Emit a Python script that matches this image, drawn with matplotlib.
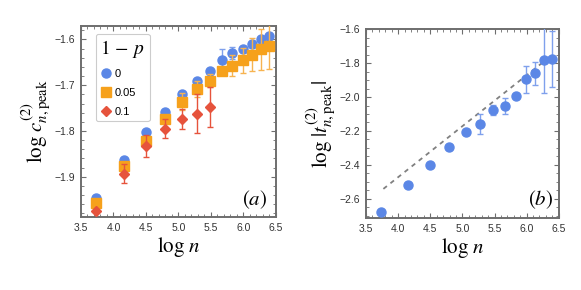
import numpy as np
from matplotlib import pyplot as plt
from matplotlib.ticker import MultipleLocator, AutoMinorLocator

plt.rcParams['mathtext.fontset'] = 'stix'
plt.rcParams['font.family'] = ['Liberation Sans', 'DejaVu Sans']

# log n values
logn = [3.738, 4.159, 4.500, 4.787, 5.050, 5.278, 5.481, 5.663,
        5.829, 5.986, 6.131, 6.265, 6.394]

# panel (a): log c_{n,peak}^{(2)} for 1-p = 0, 0.05, 0.1
c_p0 = [-1.946, -1.864, -1.803, -1.759, -1.720, -1.691, -1.668, -1.644,
        -1.629, -1.620, -1.610, -1.599, -1.592]
c_p0_err = [0.0, 0.0, 0.0, 0.0, 0.0, 0.0, 0.004, 0.024,
            0.013, 0.0, 0.0, 0.0, 0.0]
c_p05 = [-1.957, -1.877, -1.821, -1.774, -1.736, -1.708, -1.690, -1.670,
         -1.657, -1.646, -1.633, -1.622, -1.615]
c_p05_err = [0.0, 0.0, 0.0, 0.006, 0.018, 0.017, 0.015, 0.006,
             0.022, 0.027, 0.036, 0.045, 0.049]
logn_p1 = logn[:7]
c_p1 = [-1.974, -1.893, -1.833, -1.795, -1.774, -1.762, -1.747]
c_p1_err = [0.0, 0.020, 0.024, 0.021, 0.022, 0.042, 0.044]

# panel (b): log |t_{n,peak}^{(2)}|
t_p0 = [-2.679, -2.519, -2.400, -2.294, -2.205, -2.160, -2.075, -2.052,
        -1.992, -1.896, -1.859, -1.781, -1.776]
t_p0_err = [0.0, 0.0, 0.0, 0.0, 0.012, 0.058, 0.030, 0.048,
            0.008, 0.080, 0.068, 0.196, 0.165]
fit_slope, fit_intercept = 0.301, -3.677
fit_range = [3.77, 6.40]

blue = '#5b87e6'
orange = '#f6a11c'
red = '#e6533c'
frame_col = '#6e6e6e'


def style_axes(ax, ymajor, yminor_n):
    ax.set_xlim(3.5, 6.5)
    ax.xaxis.set_major_locator(MultipleLocator(0.5))
    ax.xaxis.set_minor_locator(AutoMinorLocator(5))
    ax.yaxis.set_major_locator(MultipleLocator(ymajor))
    ax.yaxis.set_minor_locator(AutoMinorLocator(yminor_n))
    ax.tick_params(which='both', direction='in', top=True, right=True,
                   color=frame_col, labelsize=7.5, labelcolor='#333333')
    ax.tick_params(which='major', length=3.5, width=0.8)
    ax.tick_params(which='minor', length=2, width=0.6)
    ax.tick_params(axis='both', which='major', pad=4)
    for s in ax.spines.values():
        s.set_color(frame_col)
        s.set_linewidth(1.4)


fig = plt.figure(figsize=(5.81, 2.90), dpi=100)
ax1 = fig.add_axes([0.1394, 0.2517, 0.3356, 0.6597])
ax2 = fig.add_axes([0.630, 0.2483, 0.3317, 0.6507])

ekw = dict(capsize=2.5, elinewidth=1.0, capthick=1.0, linestyle='none')
ax1.errorbar(logn, c_p0, yerr=c_p0_err, ecolor='#7fa0ec', **ekw,
             marker='o', ms=6.5, mfc=blue, mec=blue, zorder=3)
ax1.errorbar(logn, c_p05, yerr=c_p05_err, ecolor='#f7b350', **ekw,
             marker='s', ms=6.5, mfc=orange, mec=orange, zorder=4)
ax1.errorbar(logn_p1, c_p1, yerr=c_p1_err, ecolor=red, **ekw,
             marker='D', ms=5.2, mfc=red, mec=red, zorder=5)

# legend handles
h0 = plt.Line2D([], [], ls='none', marker='o', ms=6.5, color=blue)
h1 = plt.Line2D([], [], ls='none', marker='s', ms=6.5, color=orange)
h2 = plt.Line2D([], [], ls='none', marker='D', ms=5.2, color=red)
leg = ax1.legend([h0, h1, h2], ['0', '0.05', '0.1'], title=r'$1\,-\,p$',
                 loc='upper left', bbox_to_anchor=(0.077, 0.957),
                 borderaxespad=0, fontsize=8, title_fontsize=14,
                 handletextpad=0.3, handlelength=1.0, labelspacing=0.8,
                 borderpad=0.4, fancybox=True, framealpha=1,
                 edgecolor='#cccccc', alignment='left')
leg.get_frame().set_linewidth(0.8)

ax1.set_ylim(-1.988, -1.570)
style_axes(ax1, 0.1, 5)
ax1.set_xlabel(r'$\log\,n$', fontsize=15, labelpad=2)
ax1.set_ylabel(r'$\log\,c^{(2)}_{n,\mathrm{peak}}$', fontsize=15, labelpad=2)
ax1.text(0.955, 0.09, r'$(a)$', transform=ax1.transAxes, fontsize=15,
         ha='right', va='center')

fx = np.array(fit_range)
ax2.plot(fx, fit_slope * fx + fit_intercept, ls=(0, (2.5, 2.5)),
         color='#808080', lw=1.3, zorder=2)
ax2.errorbar(logn, t_p0, yerr=t_p0_err, ecolor='#7fa0ec', **ekw,
             marker='o', ms=6.5, mfc=blue, mec=blue, zorder=3)
ax2.set_ylim(-2.714, -1.6)
style_axes(ax2, 0.2, 4)
ax2.set_xlabel(r'$\log\,n$', fontsize=15, labelpad=2)
ax2.set_ylabel(r'$\log\,|t^{(2)}_{n,\mathrm{peak}}|$', fontsize=15,
               labelpad=2)
ax2.text(0.97, 0.095, r'$(b)$', transform=ax2.transAxes, fontsize=15,
         ha='right', va='center')

fig.savefig('out.png', dpi=100)
